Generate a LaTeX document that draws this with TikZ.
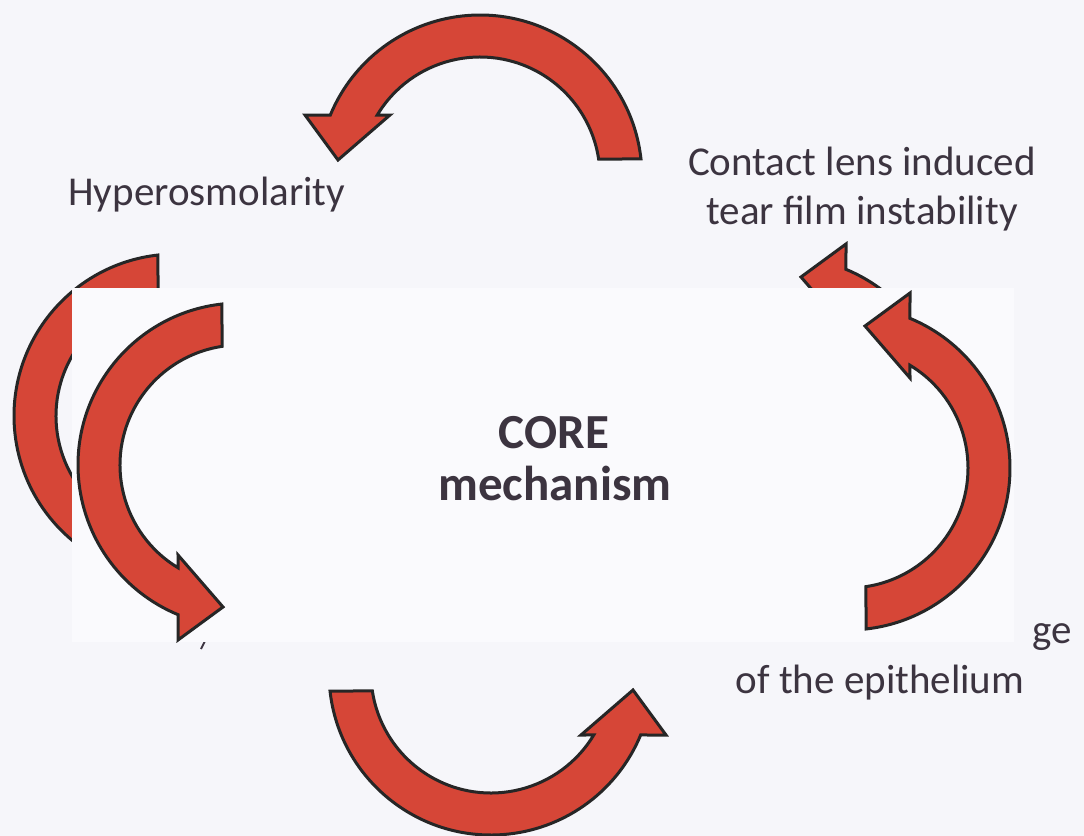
\documentclass[tikz,border=0pt]{standalone}
\usepackage{fontspec}
\setmainfont{Carlito}
\definecolor{arrowred}{RGB}{214,70,55}
\definecolor{inkgrey}{RGB}{60,52,64}
\definecolor{paper}{RGB}{246,246,250}
\definecolor{patch}{RGB}{250,250,253}

\begin{document}
\begin{tikzpicture}
  [x=0.5pt,y=-0.5pt,every node/.style={text=inkgrey,inner sep=0pt,font=\fontsize{20.5}{24}\selectfont}]
  \tikzstyle{core} = [font=\fontsize{24.5}{29}\selectfont\bfseries]
  \tikzstyle{body} = [fill=arrowred,draw=black!85,line width=1.5pt,line join=miter]
  \tikzset{cycarrow/.pic={
    \path[body] (-6.4:162) arc[start angle=-6.4,end angle=-157.5,radius=162]
      -- (-175,-62) -- (-142,-17) -- (-90,-62)
      -- (-148.9:120) arc[start angle=-148.9,end angle=-8.6,radius=120] -- cycle;}}
  \useasboundingbox[fill=paper] (0,0) rectangle (1084,836);

  % the four curved arrows
  \foreach \cx/\cy/\rot in {480/177/0,784/419/-90,491/673/180,176/416/90}
    \pic[rotate=\rot] at (\cx,\cy) {cycarrow};

  % labels round the cycle
  \node[anchor=base west] (hyper) at (68,205) {Hyperosmolarity};
  \node[anchor=base] (contact) at (862,175) {Contact lens induced};
  \node[anchor=base] (tear) at (862,224) {tear film instability};
  \node[anchor=base east] (damage) at (1072,643) {ge};
  \node[anchor=base] (epith) at (880,693) {of the epithelium};
  \draw[inkgrey,line width=1pt] (201,649) -- (205,641);

  % pasted patch over the middle
  \fill[patch] (72,288) rectangle (1014,642);
  \begin{scope}
    \clip (72,288) rectangle (1014,642);
    \foreach \cx/\cy/\rot in {848/468/-90,240/465/90}
      \pic[rotate=\rot] at (\cx,\cy) {cycarrow};
  \end{scope}
  \node[core,anchor=base] (core) at (554,448) {CORE};
  \node[core,anchor=base] (mech) at (555,500) {mechanism};
\end{tikzpicture}
\end{document}
